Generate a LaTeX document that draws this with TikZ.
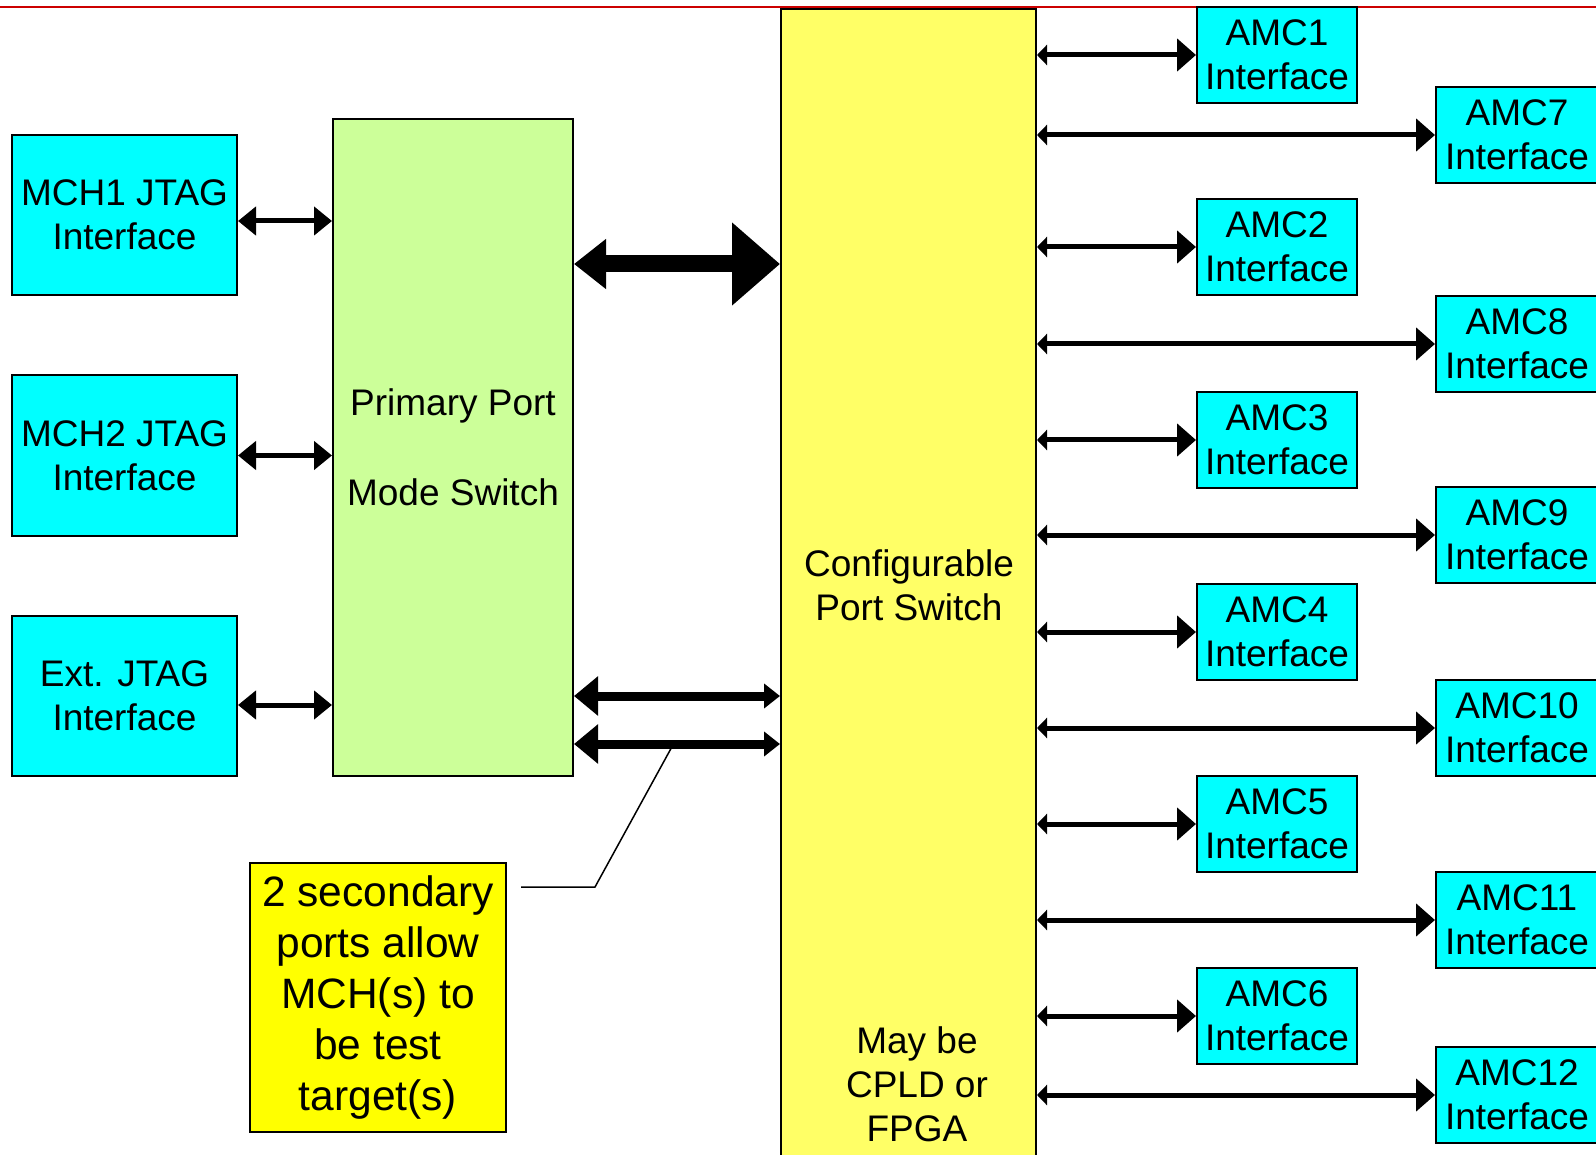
\documentclass[tikz,border=0pt]{standalone}
\usepackage{fontspec}
\setmainfont{Liberation Sans}
\usetikzlibrary{arrows.meta,calc}
\definecolor{ifcyan}{HTML}{00FFFF}
\definecolor{pmgreen}{HTML}{CCFF99}
\definecolor{cfgyellow}{HTML}{FFFF66}
\definecolor{noteyellow}{HTML}{FFFF00}
\definecolor{topred}{HTML}{CC0000}
\begin{document}
\begin{tikzpicture}[x=1pt,y=-1pt,
  blk/.style={draw=black,line width=2pt,inner sep=0pt,align=center,
    font=\fontsize{37}{44}\selectfont},
  ifbox/.style={blk,fill=ifcyan,minimum width=225pt,minimum height=160pt},
  amcbox/.style={blk,fill=ifcyan,minimum width=160pt,minimum height=96pt},
  amcwide/.style={blk,fill=ifcyan,minimum width=162pt,minimum height=96pt},
  lbl/.style={inner sep=0pt,align=center,font=\fontsize{37}{44}\selectfont},
  sidearrow/.style={line width=5pt,{Triangle[length=18pt,width=28pt]}-{Triangle[length=18pt,width=28pt]}},
  amcarrow/.style={line width=5pt,{Triangle[length=10pt,width=20pt]}-{Triangle[length=19pt,width=32pt]}},
  bigarrow/.style={line width=17pt,{Triangle[length=32pt,width=48pt]}-{Triangle[length=48pt,width=80pt]}},
  secarrow/.style={line width=9pt,{Triangle[length=24pt,width=38pt]}-{Triangle[length=16pt,width=24pt]}},
  leader/.style={line width=1.5pt}]
\useasboundingbox (0,0) rectangle (1596,1155);
\fill[white] (0,0) rectangle (1596,1155);
\draw[topred,line width=2pt] (0,7) -- (1596,7);

% central switch
\node[blk,fill=cfgyellow,minimum width=255pt,minimum height=1160pt] (cfg) at (908.5,589) {};
\node[lbl] (cfgtxt) at (909,585) {Configurable\\Port Switch};
\node[lbl] (cfgimpl) at (917,1084) {May be\\CPLD or\\FPGA};

% primary port mode switch
\node[blk,fill=pmgreen,minimum width=240pt,minimum height=657pt] (pri) at (453,447.5)
  {Primary Port\\[46pt]Mode Switch};

% JTAG sources
\node[ifbox] (mch1) at (124.5,215) {MCH1 JTAG\\Interface};
\node[ifbox] (mch2) at (124.5,455.5) {MCH2 JTAG\\Interface};
\node[ifbox] (ext) at (124.5,696) {Ext. JTAG\\Interface};

% callout
\node[blk,fill=noteyellow,minimum width=256pt,minimum height=269pt,
  font=\fontsize{42.5}{51}\selectfont] (note) at (378,997.5)
  {2 secondary\\ports allow\\MCH(s) to\\be test\\target(s)};

% AMC interfaces
\node[amcbox] (amc1) at (1277,55) {AMC1\\Interface};
\node[amcbox] (amc2) at (1277,247) {AMC2\\Interface};
\node[amcbox] (amc3) at (1277,440) {AMC3\\Interface};
\node[amcbox] (amc4) at (1277,632) {AMC4\\Interface};
\node[amcbox] (amc5) at (1277,824) {AMC5\\Interface};
\node[amcbox] (amc6) at (1277,1016) {AMC6\\Interface};
\node[amcwide] (amc7) at (1517,135) {AMC7\\Interface};
\node[amcwide] (amc8) at (1517,344) {AMC8\\Interface};
\node[amcwide] (amc9) at (1517,535) {AMC9\\Interface};
\node[amcwide] (amc10) at (1517,728) {AMC10\\Interface};
\node[amcwide] (amc11) at (1517,920) {AMC11\\Interface};
\node[amcwide] (amc12) at (1517,1095) {AMC12\\Interface};

% JTAG source links
\draw[sidearrow] ([yshift=-6pt]mch1.east) -- ([yshift=-6pt]mch1.east -| pri.west);
\draw[sidearrow] (mch2.east) -- (mch2.east -| pri.west);
\draw[sidearrow] ([yshift=-9pt]ext.east) -- ([yshift=-9pt]ext.east -| pri.west);

% primary and secondary ports
\coordinate (bigy) at (0,264);
\coordinate (sec1y) at (0,696);
\coordinate (sec2y) at (0,744);
\draw[bigarrow] (pri.east |- bigy) -- (cfg.west |- bigy);
\draw[secarrow] (pri.east |- sec1y) -- (cfg.west |- sec1y);
\draw[secarrow] (pri.east |- sec2y) -- (cfg.west |- sec2y);

% AMC links
\foreach \k in {1,...,12}{
  \draw[amcarrow] (cfg.east |- amc\k.west) -- (amc\k.west);
}

% callout leader
\coordinate (ldA) at (671,748.5);
\coordinate (ldB) at (595,887);
\coordinate (ldC) at (521,887);
\draw[leader] (ldA) -- (ldB) -- (ldC);
\end{tikzpicture}
\end{document}
